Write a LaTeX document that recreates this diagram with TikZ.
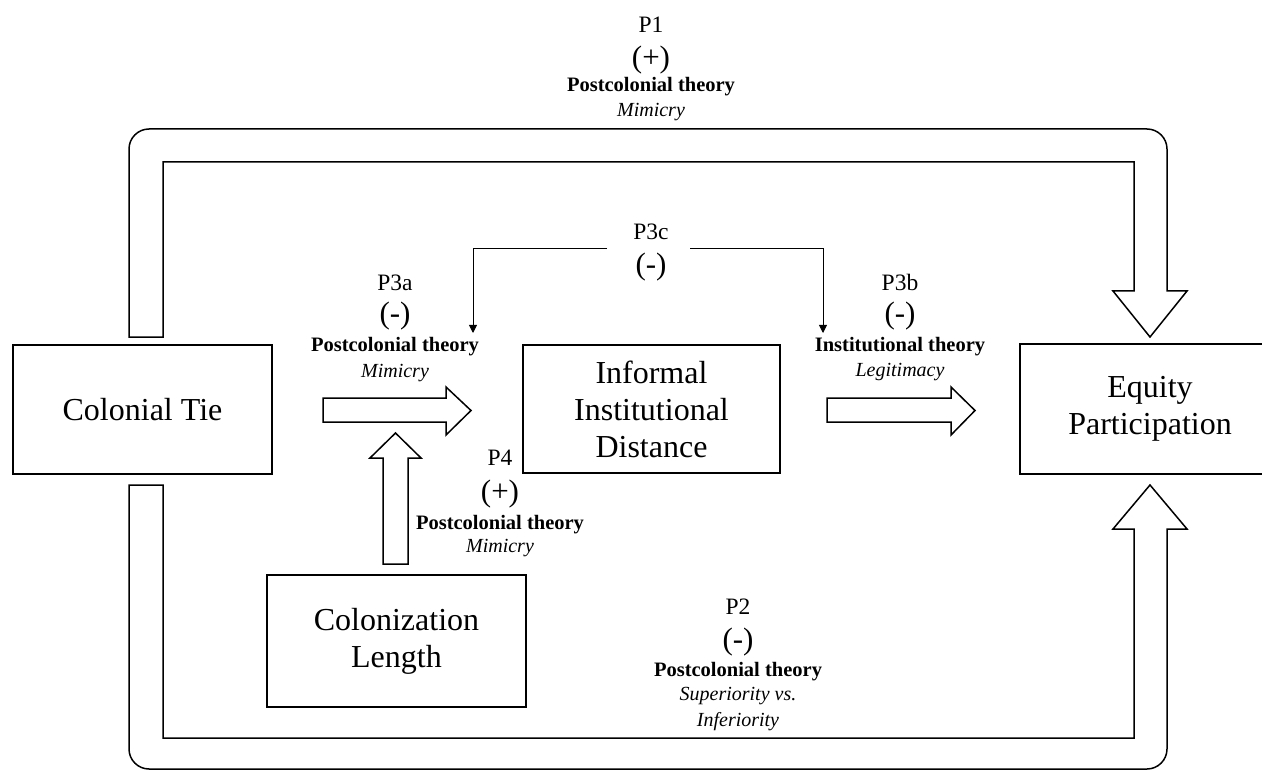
\documentclass[tikz,border=0pt]{standalone}
\usepackage{fontspec}
\setmainfont{Liberation Serif}
\usetikzlibrary{arrows.meta}
\begin{document}
\begin{tikzpicture}[x=1pt,y=-1pt,
  mainbox/.style={draw, line width=1.5pt, align=center, font=\fontsize{32}{37}\selectfont, inner sep=0pt},
  plabel/.style={font=\fontsize{23.5}{28}\selectfont, inner sep=0pt},
  signlabel/.style={font=\fontsize{31}{36}\selectfont, inner sep=0pt},
  theory/.style={font=\bfseries\fontsize{20.5}{25}\selectfont, inner sep=0pt},
  mech/.style={font=\itshape\fontsize{20}{26}\selectfont, align=center, inner sep=0pt},
  blockarrow/.style={draw, line width=1.5pt, fill=white, line join=miter},
  thinarrow/.style={line width=0.9pt, -{Triangle[length=8pt,width=8pt]}}]
\useasboundingbox (0,0) rectangle (1262,770);

% boxes
\node[mainbox, minimum width=259pt, minimum height=129pt] (tie) at (142.5,409.5) {Colonial Tie};
\node[mainbox, minimum width=257pt, minimum height=128pt] (dist) at (651.5,409) {Informal\\Institutional\\Distance};
\node[mainbox, minimum width=259pt, minimum height=132pt] (len) at (396.5,641) {Colonization\\Length};
\node[mainbox, minimum width=260pt, minimum height=130pt] (eq) at (1150,409) {Equity\\Participation};

% top U arrow (P1)
\draw[blockarrow] (129,337) -- (129,149) .. controls (129,138) and (138,129) .. (149,129)
  -- (1147,129) .. controls (1158,129) and (1167,138) .. (1167,149)
  -- (1167,291) -- (1187,291) -- (1150,337) -- (1113,291) -- (1134,291)
  -- (1134,162) -- (163,162) -- (163,337) -- cycle;

% bottom U arrow (P2)
\draw[blockarrow] (129,485) -- (129,749) .. controls (129,760) and (138,769) .. (149,769)
  -- (1147,769) .. controls (1158,769) and (1167,760) .. (1167,749)
  -- (1167,529) -- (1187,529) -- (1150,485) -- (1113,529) -- (1134,529)
  -- (1134,738) -- (163,738) -- (163,485) -- cycle;

% P3a arrow
\draw[blockarrow] (323,398) -- (446,398) -- (446,387) -- (471,410.5) -- (446,435) -- (446,422) -- (323,422) -- cycle;
% P3b arrow
\draw[blockarrow] (827,398) -- (951,398) -- (951,387) -- (975,410.5) -- (951,435) -- (951,422) -- (827,422) -- cycle;
% P4 arrow
\draw[blockarrow] (383,564) -- (383,458) -- (370,458) -- (395.5,433) -- (421,458) -- (408,458) -- (408,564) -- cycle;

% P1 label
\node[plabel] (p1) at (651,25) {P1};
\node[signlabel] (p1s) at (651,60) {(+)};
\node[theory] (p1t) at (651,87) {Postcolonial theory};
\node[mech] (p1m) at (651,112) {Mimicry};

% P3a label
\node[plabel] (p3a) at (395,283) {P3a};
\node[signlabel] (p3as) at (395,316) {(-)};
\node[theory] (p3at) at (395,347) {Postcolonial theory};
\node[mech] (p3am) at (395,373) {Mimicry};

% P3b label
\node[plabel] (p3b) at (900,282) {P3b};
\node[signlabel] (p3bs) at (900,316) {(-)};
\node[theory] (p3bt) at (900,347) {Institutional theory};
\node[mech] (p3bm) at (900,372) {Legitimacy};

% P3c label
\node[plabel] (p3c) at (651,232) {P3c};
\node[signlabel] (p3cs) at (651,267) {(-)};
\coordinate (p3cL) at (607,248);
\coordinate (p3cR) at (690,248);
\coordinate (p3cLt) at (473,333);
\coordinate (p3cRt) at (823,333);
\draw[thinarrow] (p3cL) -| (p3cLt);
\draw[thinarrow] (p3cR) -| (p3cRt);

% P4 label
\node[plabel] (p4) at (500,458) {P4};
\node[signlabel] (p4s) at (500,494) {(+)};
\node[theory] (p4t) at (500,525) {Postcolonial theory};
\node[mech] (p4m) at (500,548) {Mimicry};

% P2 label
\node[plabel] (p2) at (738,607) {P2};
\node[signlabel] (p2s) at (738,642) {(-)};
\node[theory] (p2t) at (738,672) {Postcolonial theory};
\node[mech] (p2m) at (738,709) {Superiority vs.\\Inferiority};
\end{tikzpicture}
\end{document}
